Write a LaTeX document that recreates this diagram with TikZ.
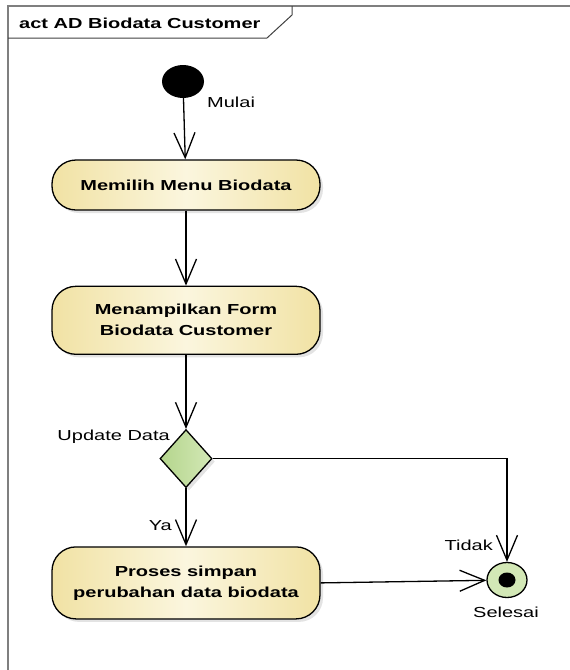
\documentclass[tikz,border=0pt]{standalone}
\usepackage{fontspec}
\setmainfont[FakeStretch=1.38]{Liberation Sans}
\usetikzlibrary{arrows.meta,positioning,shapes.geometric,shadows}
\definecolor{Krem}{HTML}{F1E2A4}
\definecolor{KremMuda}{HTML}{FBF6DE}
\definecolor{Hijau}{HTML}{B4D58C}
\definecolor{HijauMuda}{HTML}{D3E8B6}
\definecolor{Bingkai}{HTML}{7F7F7F}
\newcommand{\teks}{\fontsize{14.5}{21}\selectfont}

\begin{document}
\begin{tikzpicture}[x=1pt,y=-1pt,
    aksi/.style={
      draw,
      line width=1.3pt,
      rounded corners=24pt,
      minimum width=268pt,
      inner sep=0pt,
      align=center,
      font=\teks\bfseries,
      left color=Krem,
      right color=Krem,
      middle color=KremMuda,
      drop shadow={shadow xshift=3pt,shadow yshift=-3pt,fill=black!22}
    },
    putusan/.style={
      diamond,
      draw,
      line width=1.3pt,
      inner sep=0pt,
      minimum width=52pt,
      minimum height=58pt,
      left color=Hijau,
      right color=HijauMuda,
      drop shadow={shadow xshift=3pt,shadow yshift=-3pt,fill=black!22}
    },
    keterangan/.style={font=\teks,inner sep=0pt},
    alur/.style={line width=1.3pt,-{Straight Barb[length=25pt,width=21pt,line width=1.3pt]}}
  ]
  \useasboundingbox (0,0) rectangle (570,670);

  % bingkai diagram
  \draw[Bingkai,line width=2pt] (8,670) -- (8,6) -- (570,6);
  \draw[black!75,line width=1pt] (8,38) -- (267,38) -- (292,15) -- (292,6);
  \node[anchor=base west,font=\teks\bfseries,inner sep=0pt] (judul) at (19,28) {act AD Biodata Customer};

  % node aktivitas
  \node[ellipse,fill=black,minimum width=42pt,minimum height=33pt,inner sep=0pt] (mulai) at (183,81.5) {};
  \node[aksi,minimum height=50pt] (memilih) at (186,185) {Memilih Menu Biodata};
  \node[aksi,minimum height=68pt,below=75pt of memilih] (tampil) {Menampilkan Form\\Biodata Customer};
  \node[putusan,below=74pt of tampil] (update) {};
  \node[aksi,minimum height=72pt,below=58pt of update] (simpan) {Proses simpan\\perubahan data biodata};
  \node[ellipse,draw,line width=1.3pt,fill=HijauMuda,minimum width=40pt,minimum height=35pt,inner sep=0pt] (selesai) at (507,580) {};
  \fill (selesai.center) ellipse (8.5 and 7.5);

  % label
  \node[keterangan,anchor=west] (tMulai) at (207,102) {Mulai};
  \node[keterangan,anchor=east] (tUpdate) at (170,437) {Update Data};
  \node[keterangan,anchor=east] (tYa) at (172,526) {Ya};
  \node[keterangan,anchor=east] (tTidak) at (493,545) {Tidak};
  \node[keterangan] (tSelesai) at (506,612) {Selesai};

  % alur
  \draw[alur] (mulai) -- (memilih);
  \draw[alur] (memilih) -- (tampil);
  \draw[alur] (tampil) -- (update);
  \draw[alur] (update) -- (simpan);
  \draw[alur] (update.east) -| (selesai.north);
  \draw[alur] (simpan.east) -- (selesai);
\end{tikzpicture}
\end{document}
